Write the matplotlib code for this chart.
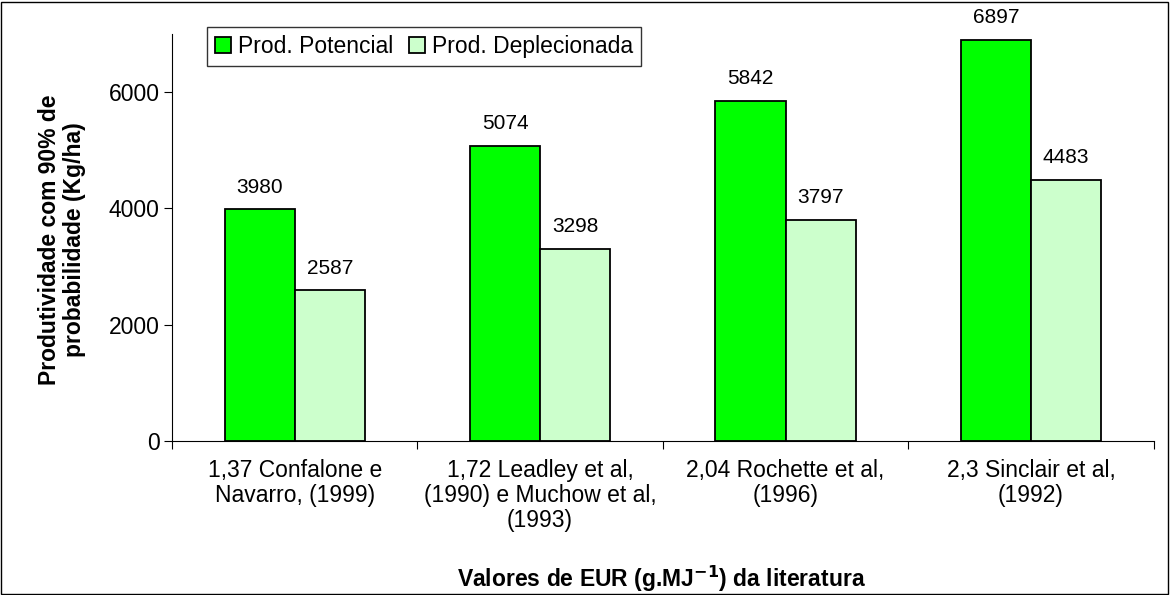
import matplotlib.pyplot as plt
import numpy as np
from matplotlib.patches import Rectangle

plt.rcParams['font.family'] = ['Liberation Sans', 'DejaVu Sans']

categories = ["1,37 Confalone e\nNavarro, (1999)",
              "1,72 Leadley et al,\n(1990) e Muchow et al,\n(1993)",
              "2,04 Rochette et al,\n(1996)",
              "2,3 Sinclair et al,\n(1992)"]
prod_potencial = [3980, 5074, 5842, 6897]
prod_deplecionada = [2587, 3298, 3797, 4483]
yticks = [0, 2000, 4000, 6000]

fig = plt.figure(figsize=(11.7, 5.95), dpi=100)
ax = fig.add_axes([0.147, 0.259, 0.839, 0.684])

x = np.arange(len(categories))
w = 0.286
b1 = ax.bar(x - w/2, prod_potencial, w, color='#00FF00', edgecolor='black',
            linewidth=1.3, label='Prod. Potencial')
b2 = ax.bar(x + w/2, prod_deplecionada, w, color='#CCFFCC', edgecolor='black',
            linewidth=1.3, label='Prod. Deplecionada')
for bars in (b1, b2):
    for r in bars:
        ax.text(r.get_x() + r.get_width()/2, r.get_height() + 220,
                str(int(r.get_height())), ha='center', va='bottom', fontsize=15)

ax.set_xlim(-0.5, len(categories) - 0.5)
ax.set_ylim(0, 7000)
ax.set_yticks(yticks)
ax.set_yticklabels([str(v) for v in yticks], fontsize=16.5)
ax.set_xticks(np.arange(len(categories) + 1) - 0.5, minor=False)
ax.set_xticklabels([])
ax.set_xticks(x, minor=True)
ax.set_xticklabels(categories, minor=True, fontsize=16.5, linespacing=1.1)
ax.tick_params(axis='x', which='minor', length=0, pad=13)
ax.tick_params(axis='x', which='major', length=6, direction='out')
ax.tick_params(axis='y', length=6, direction='out', pad=3)
ax.spines['right'].set_visible(False)
ax.spines['top'].set_visible(False)

ax.set_ylabel('Produtividade com 90% de\nprobabilidade (Kg/ha)', fontsize=16.5,
              fontweight='bold', linespacing=1.1)
ax.yaxis.set_label_coords(-0.088, 0.494)
fig.text(0.565, 0.027, r'Valores de EUR (g.MJ$^{\mathbf{-1}}$) da literatura',
         ha='center', va='center', fontsize=16.5, fontweight='bold')

leg = ax.legend(loc='upper left', ncol=2, fontsize=16.5, frameon=True,
                fancybox=False, edgecolor='black', handlelength=0.7,
                handleheight=0.7, handletextpad=0.3, columnspacing=0.7,
                borderpad=0.35, borderaxespad=0,
                bbox_to_anchor=(207/1170, 1 - 27/595),
                bbox_transform=fig.transFigure)
leg.get_frame().set_linewidth(1)

fig.patches.append(Rectangle((0.001, 0.002), 0.997, 0.995, transform=fig.transFigure,
                             fill=False, edgecolor='black', linewidth=1))

fig.savefig("out.png", dpi=100)
plt.close("all")
